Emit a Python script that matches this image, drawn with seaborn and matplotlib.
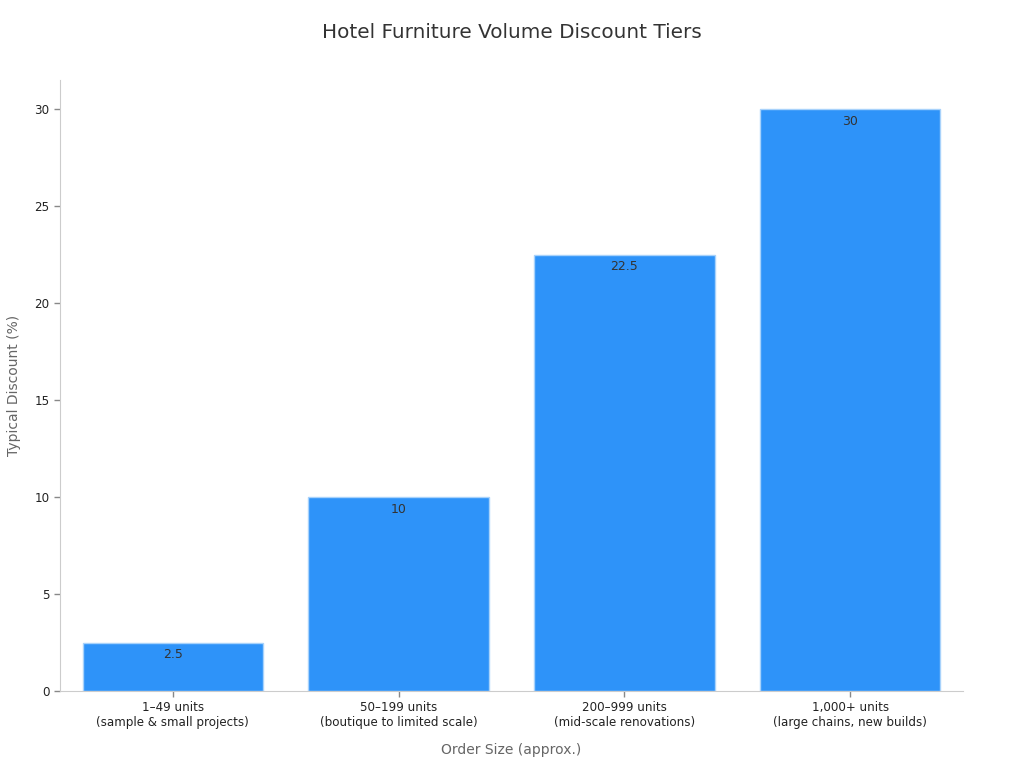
import matplotlib
matplotlib.use("Agg")
import matplotlib.pyplot as plt
import seaborn as sns
import pandas as pd

categories = ["1–49 units\n(sample & small projects)",
              "50–199 units\n(boutique to limited scale)",
              "200–999 units\n(mid-scale renovations)",
              "1,000+ units\n(large chains, new builds)"]
discounts = [2.5, 10, 22.5, 30]
value_labels = ["2.5", "10", "22.5", "30"]

df = pd.DataFrame({"Order Size": categories, "Discount": discounts})

sns.set_style("ticks")
plt.rcParams['font.family'] = ['DejaVu Sans']

fig = plt.figure(figsize=(10.24, 7.68), dpi=100)
ax = fig.add_axes([60/1024, 1 - 691/768, (963-60)/1024, (691-80)/768])

sns.barplot(data=df, x="Order Size", y="Discount", color="#2E93F9",
            saturation=1, width=0.8, edgecolor="#A8D2FB", linewidth=1, ax=ax)

for i, (v, lab) in enumerate(zip(discounts, value_labels)):
    ax.annotate(lab, (i, v), xytext=(0, -4), textcoords="offset points",
                ha="center", va="top", fontsize=9, color="#333333")

ax.set_xlim(-0.5, 3.5)
ax.set_ylim(0, 31.5)
ax.set_yticks([0, 5, 10, 15, 20, 25, 30])
ax.tick_params(axis="both", labelsize=8.6, labelcolor="#222222", length=4, color="#888888", width=1)
for s in ["top", "right"]:
    ax.spines[s].set_visible(False)
for s in ["left", "bottom"]:
    ax.spines[s].set_color("#cccccc")

ax.set_xlabel("Order Size (approx.)", fontsize=10, color="#666666", labelpad=10)
ax.set_ylabel("Typical Discount (%)", fontsize=10, color="#666666", labelpad=10)
fig.suptitle("Hotel Furniture Volume Discount Tiers", fontsize=14.4, color="#333333", y=1 - 33/768, va="center")

fig.savefig("out.png", dpi=100)
